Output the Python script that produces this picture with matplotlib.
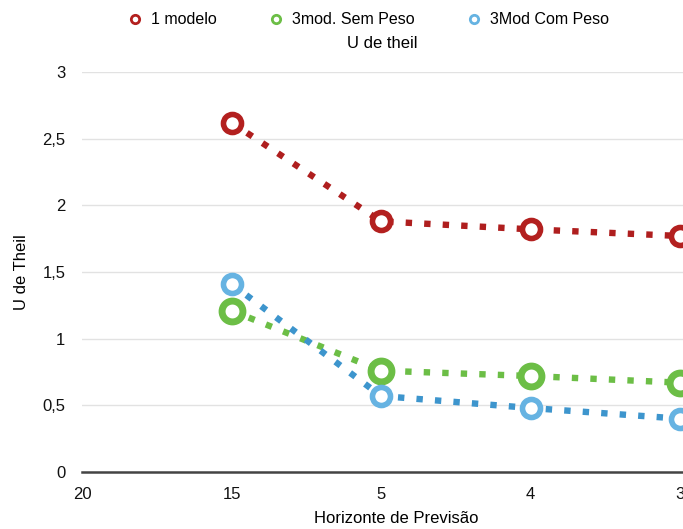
import matplotlib.pyplot as plt
import numpy as np

plt.rcParams['font.family'] = ['Liberation Sans', 'DejaVu Sans']

categorias = ['20', '15', '5', '4', '3']
horizonte = ['15', '5', '4', '3']
um_modelo = [2.62, 1.88, 1.82, 1.77]
sem_peso = [1.21, 0.76, 0.72, 0.67]
com_peso = [1.41, 0.57, 0.48, 0.40]

fig = plt.figure(figsize=(6.83, 5.29), dpi=100)
ax = fig.add_axes([82 / 683, 57 / 529, 628 / 683, 400 / 529])

xpos = np.array([categorias.index(h) for h in horizonte])

# valores, nome, cor da linha, cor do marcador, tamanho, espessura da borda
series = [
    (um_modelo, '1 modelo', '#AF1E1E', '#B3201F', 13, 4),
    (sem_peso, '3mod. Sem Peso', '#6CBE46', '#6CBE46', 15, 5),
    (com_peso, '3Mod Com Peso', '#3D95CD', '#66B3E2', 13, 4),
]

for vals, nome, cor_linha, cor_marca, ms, mew in series:
    ax.plot(xpos, vals, color=cor_linha, lw=4.6, dashes=(1, 1.9),
            dash_capstyle='butt', marker='o', ms=ms, mfc='white',
            mec=cor_marca, mew=mew, label=nome, clip_on=False, zorder=3)

ax.set_xlim(0, 4.2)
ax.set_ylim(0, 3)
ax.set_xticks(range(len(categorias)))
ax.set_xticklabels(categorias)
yt = [0, 0.5, 1, 1.5, 2, 2.5, 3]
ax.set_yticks(yt)
ax.set_yticklabels([f'{v:g}'.replace('.', ',') for v in yt])
ax.tick_params(length=0, labelsize=12, colors='#111111')
ax.tick_params(axis='y', pad=12)
ax.tick_params(axis='x', pad=11)
ax.grid(axis='y', color='#E2E2E2', lw=1)
ax.set_axisbelow(True)
for s in ['top', 'right', 'left']:
    ax.spines[s].set_visible(False)
ax.spines['bottom'].set_color('#444444')
ax.spines['bottom'].set_linewidth(1.8)

ax.set_xlabel('Horizonte de Previsão', fontsize=12, labelpad=6)
fig.text(22 / 683, 1 - 272 / 529, 'U de Theil', rotation=90,
         fontsize=12, ha='center', va='center')
fig.text(382 / 683, 1 - 44 / 529, 'U de theil', fontsize=12,
         ha='center', va='center')

handles = [plt.Line2D([], [], ls='none', marker='o', ms=6, mfc='white',
                      mec=s[3], mew=2) for s in series]
fig.legend(handles, [s[1] for s in series], loc='center', ncol=3,
           bbox_to_anchor=(368 / 683, 1 - 20 / 529), frameon=False,
           fontsize=11.5, handletextpad=0.5, columnspacing=3.2,
           handlelength=1.0)

fig.savefig('out.png', dpi=100)
